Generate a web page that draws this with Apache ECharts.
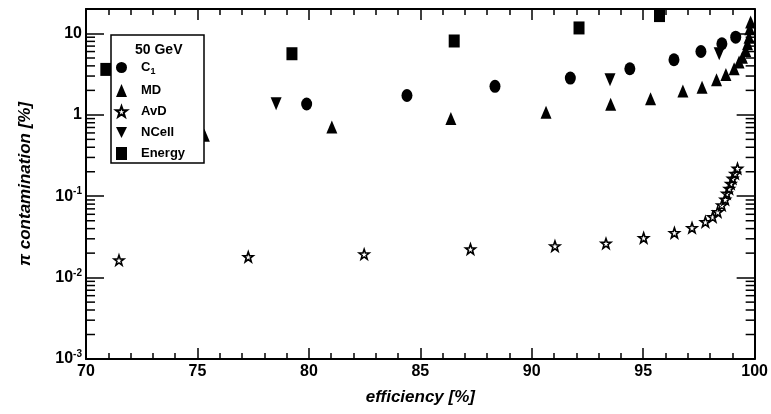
<!DOCTYPE html>
<html>
<head>
<meta charset="utf-8">
<script src="https://cdn.jsdelivr.net/npm/echarts@6/dist/echarts.min.js"></script>
<style>
html, body { margin: 0; padding: 0; background: #fff; }
#main { width: 771px; height: 414px; }
</style>
</head>
<body>
<div id="main"></div>
<script>
// efficiency [%] / pi contamination [%]
var effC1 = [79.9, 84.4, 88.35, 91.73, 94.4, 96.38, 97.59, 98.53, 99.15];
var valC1 = [1.36, 1.73, 2.24, 2.83, 3.69, 4.76, 6.01, 7.48, 9.0];

var effMD = [75.31, 81.03, 86.37, 90.64, 93.54, 95.33, 96.78, 97.64, 98.29, 98.71, 99.08, 99.3, 99.45, 99.6, 99.68, 99.75, 99.78, 99.82];
var valMD = [0.56, 0.71, 0.9, 1.08, 1.35, 1.58, 1.96, 2.19, 2.7, 3.14, 3.69, 4.45, 5.12, 6.19, 7.47, 9.0, 11.4, 13.8];

var effAvD = [71.48, 77.28, 82.48, 87.25, 91.04, 93.33, 95.02, 96.4, 97.19, 97.79, 98.12, 98.34, 98.53, 98.68, 98.75, 98.86, 98.93, 99.01, 99.12, 99.23];
var valAvD = [0.0164, 0.018, 0.0194, 0.0224, 0.0244, 0.0263, 0.0308, 0.0355, 0.0409, 0.0484, 0.0557, 0.0642, 0.0776, 0.0911, 0.108, 0.124, 0.143, 0.165, 0.19, 0.219];

var effNCell = [78.53, 93.51, 98.41];
var valNCell = [1.37, 2.7, 5.64];

var effEnergy = [70.89, 79.24, 86.52, 92.12, 95.73];
var valEnergy = [3.62, 5.64, 8.09, 11.7, 16.6];

var seriesNames = ['C1', 'MD', 'AvD', 'NCell', 'Energy'];
var xMin = 70, xMax = 100, xStep = 5;
var yMin = 0.001, yMax = 20;

function pairs(xs, ys) {
    return xs.map(function (x, i) { return [x, ys[i]]; });
}

var FONT = '"Liberation Sans", Arial, sans-serif';
var starPath = 'path://M0,-10 L2.35,-3.24 L9.51,-3.09 L3.8,1.24 L5.88,8.09 L0,4 L-5.88,8.09 L-3.8,1.24 L-9.51,-3.09 L-2.35,-3.24 Z';
var downTriPath = 'path://M0,0 L10,0 L5,10 Z';

var myChart = echarts.init(document.getElementById('main'));

var tickStyle = { color: '#000', width: 1.5 };
var solid = { color: '#000', opacity: 1 };

var option = {
    backgroundColor: '#fff',
    animation: false,
    textStyle: { fontFamily: FONT },
    grid: { left: 86, right: 12, top: 9, bottom: 55 },
    legend: {
        data: [
            { name: 'C1' },
            { name: 'MD' },
            { name: 'AvD' },
            { name: 'NCell', icon: downTriPath },
            { name: 'Energy' }
        ],
        orient: 'vertical',
        left: 115,
        top: 61,
        padding: 0,
        itemWidth: 11,
        itemHeight: 13,
        itemGap: 8,
        z: 5,
        formatter: function (name) {
            if (name === 'C1') return '{b|C}{s|1}';
            return '{b|' + name + '}';
        },
        textStyle: {
            color: '#000',
            padding: [0, 0, 0, 9],
            rich: {
                b: { fontSize: 13, fontWeight: 'bold', color: '#000', fontFamily: FONT },
                s: { fontSize: 9, fontWeight: 'bold', color: '#000', fontFamily: FONT, padding: [8, 0, 0, 0] }
            }
        }
    },
    xAxis: [{
        type: 'value',
        min: xMin, max: xMax, interval: xStep,
        name: 'efficiency [%]',
        nameLocation: 'middle',
        nameGap: 30,
        nameTextStyle: { fontSize: 17, fontWeight: 'bold', fontStyle: 'italic', color: '#000', fontFamily: FONT },
        axisLine: { onZero: false, lineStyle: { color: '#000', width: 2 } },
        axisTick: { inside: true, length: 11, lineStyle: tickStyle },
        minorTick: { show: true, splitNumber: 5, length: 6, lineStyle: tickStyle },
        axisLabel: { margin: 5, fontSize: 16, fontWeight: 'bold', color: '#000', fontFamily: FONT },
        splitLine: { show: false }
    }, {
        type: 'value',
        position: 'top',
        min: xMin, max: xMax, interval: xStep,
        axisLine: { onZero: false, lineStyle: { color: '#000', width: 2 } },
        axisTick: { inside: true, length: 11, lineStyle: tickStyle },
        minorTick: { show: true, splitNumber: 5, length: 6, lineStyle: tickStyle },
        axisLabel: { show: false },
        splitLine: { show: false }
    }],
    yAxis: [{
        type: 'log',
        min: yMin, max: yMax,
        name: '\u03c0 contamination [%]',
        nameLocation: 'middle',
        nameGap: 52,
        nameTextStyle: { fontSize: 17, fontWeight: 'bold', fontStyle: 'italic', color: '#000', fontFamily: FONT },
        axisLine: { onZero: false, lineStyle: { color: '#000', width: 2 } },
        axisTick: { inside: true, length: 18, lineStyle: tickStyle },
        axisLabel: {
            margin: 4,
            color: '#000',
            fontFamily: FONT,
            fontSize: 16,
            fontWeight: 'bold',
            formatter: function (v) {
                var l = Math.log10(v), p = Math.round(l);
                if (Math.abs(l - p) > 1e-6) return '';
                if (p === 1) return '{b|10}';
                if (p === 0) return '{b|1}';
                return '{b|10}{s|' + p + '}';
            },
            rich: {
                b: { fontSize: 16, fontWeight: 'bold', color: '#000', fontFamily: FONT },
                s: { fontSize: 10, fontWeight: 'bold', color: '#000', fontFamily: FONT, padding: [0, 0, 9, 0] }
            }
        },
        splitLine: { show: false }
    }, {
        type: 'log',
        position: 'right',
        min: yMin, max: yMax,
        axisLine: { onZero: false, lineStyle: { color: '#000', width: 2 } },
        axisTick: { inside: true, length: 18, lineStyle: tickStyle },
        axisLabel: { show: false },
        splitLine: { show: false }
    }],
    series: [{
        name: 'C1',
        type: 'scatter',
        symbol: 'circle',
        symbolSize: [11, 13],
        itemStyle: solid,
        data: pairs(effC1, valC1)
    }, {
        name: 'MD',
        type: 'scatter',
        symbol: 'triangle',
        symbolSize: [11, 13],
        itemStyle: solid,
        data: pairs(effMD, valMD)
    }, {
        name: 'AvD',
        type: 'scatter',
        symbol: starPath,
        symbolSize: [10, 10],
        itemStyle: { color: 'rgba(0,0,0,0)', borderColor: '#000', borderWidth: 1.6, opacity: 1 },
        data: pairs(effAvD, valAvD)
    }, {
        name: 'NCell',
        type: 'scatter',
        symbol: downTriPath,
        symbolSize: [11, 13],
        itemStyle: solid,
        data: pairs(effNCell, valNCell)
    }, {
        name: 'Energy',
        type: 'scatter',
        symbol: 'rect',
        symbolSize: [11, 13],
        itemStyle: solid,
        data: pairs(effEnergy, valEnergy)
    }]
};

myChart.setOption(option);

// log-axis minor ticks (2..9 x 10^n) on both vertical axes, plus legend box
var xl = myChart.convertToPixel({ xAxisIndex: 0 }, xMin);
var xr = myChart.convertToPixel({ xAxisIndex: 0 }, xMax);
var graphics = [];
for (var n = -3; n <= 1; n++) {
    for (var k = 2; k <= 9; k++) {
        var v = k * Math.pow(10, n);
        if (v >= yMax) continue;
        var py = myChart.convertToPixel({ yAxisIndex: 0 }, v);
        graphics.push({ type: 'line', z: 3, shape: { x1: xl, y1: py, x2: xl + 9, y2: py }, style: { stroke: '#000', lineWidth: 1.5 } });
        graphics.push({ type: 'line', z: 3, shape: { x1: xr, y1: py, x2: xr - 9, y2: py }, style: { stroke: '#000', lineWidth: 1.5 } });
    }
}
graphics.push({
    type: 'rect', z: 3,
    shape: { x: 111, y: 35, width: 93, height: 128 },
    style: { fill: '#fff', stroke: '#000', lineWidth: 1.5 }
});
graphics.push({
    type: 'text', z: 5,
    x: 135, y: 43,
    style: { text: '50 GeV', font: 'bold 14px ' + FONT, fill: '#000' }
});

myChart.setOption({ graphic: graphics });
</script>
</body>
</html>
